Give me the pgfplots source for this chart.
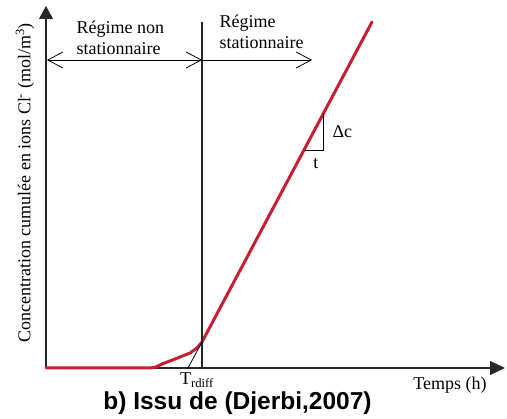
\documentclass[border=0pt]{standalone}
\usepackage{pgfplots}
\pgfplotsset{compat=1.18}
\usetikzlibrary{arrows.meta}
\usepackage{fontspec}
\setmainfont{Liberation Serif}
\newfontfamily\capfont{Liberation Sans}
\definecolor{curvered}{RGB}{200,30,50}
\definecolor{axgray}{RGB}{40,40,40}
\begin{document}
\begin{tikzpicture}
\begin{axis}[
 scale only axis, width=459pt, height=362pt,
 xmin=0,xmax=459,ymin=0,ymax=362,
 axis lines=left, xtick=\empty, ytick=\empty,
 axis line style={line width=1.2pt, color=axgray},
 x axis line style={-{Triangle[length=15pt,width=14pt]}},
 y axis line style={-{Triangle[length=13pt,width=14pt]}},
 clip=false,
 font=\fontsize{18}{21.6}\selectfont,
]
\addplot[curvered, line width=3pt, line join=round, line cap=round] coordinates {
 (0,0) (104,0) (110,1) (116,4) (129,9) (144,15) (151,20) (156,26) (326,346)
};
% vertical line and tangent
\draw[axgray, line width=1.1pt] (axis cs:156,0) -- (axis cs:156,346);
\draw[black, line width=0.8pt] (axis cs:142,0) -- (axis cs:156,26);
% regime arrows
\draw[black, line width=0.8pt, {Straight Barb[length=15pt,width=16pt]}-{Straight Barb[length=15pt,width=16pt]}] (axis cs:1,308) -- (axis cs:156,308);
\draw[black, line width=0.8pt, -{Straight Barb[length=15pt,width=16pt]}] (axis cs:156,308) -- (axis cs:266,308);
\node[anchor=west, align=left, font=\fontsize{18}{21.6}\selectfont] at (axis cs:27,330) {Régime non\\stationnaire};
\node[anchor=west, align=left, font=\fontsize{18}{21.6}\selectfont] at (axis cs:170,336) {Régime\\stationnaire};
% slope triangle
\draw[black, line width=0.9pt] (axis cs:259,218) -- (axis cs:277,218) -- (axis cs:277,255);
\node[anchor=west] at (axis cs:283,236) {Δc};
\node at (axis cs:270,204) {t};
% labels
\node at (axis cs:151,-12) {T\textsubscript{rdiff}};
\node at (axis cs:404,-17) {Temps (h)};
\node[rotate=90] at (axis cs:-21,185) {Concentration cumulée en ions Cl\textsuperscript{-} (mol/m\textsuperscript{3})};
\node at (axis cs:191.5,-35) {\capfont\bfseries\fontsize{24.5}{28}\selectfont b) Issu de (Djerbi,2007)};
\coordinate (bl) at (axis cs:-46,-51);
\coordinate (tr) at (axis cs:461,368);
\end{axis}
\pgfresetboundingbox
\path (bl) rectangle (tr);
\end{tikzpicture}
\end{document}
